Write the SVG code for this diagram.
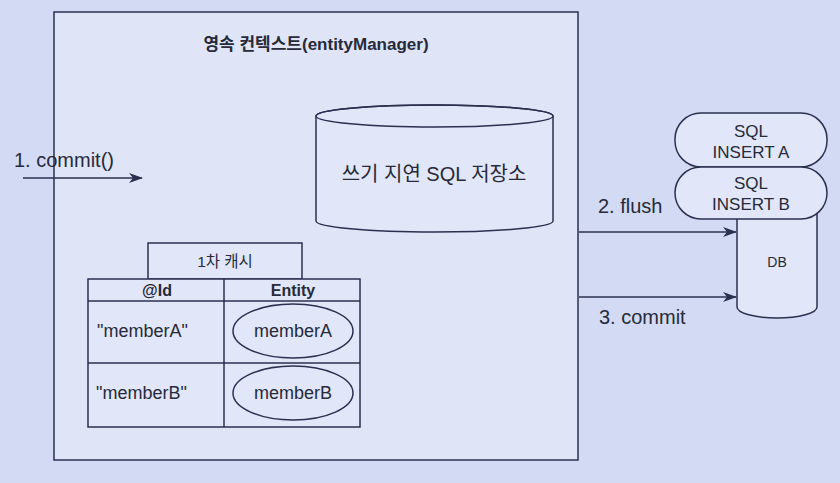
<svg xmlns="http://www.w3.org/2000/svg" width="840" height="483" viewBox="0 0 840 483">
<defs>
<style>
.ln{fill:none;stroke:#2b3050;stroke-width:1.5}
.sh{fill:#e1e6f8;stroke:#2b3050;stroke-width:1.5}
.t{font-family:"Liberation Sans","Noto Sans CJK KR",sans-serif;fill:#262a3a}
.c{text-anchor:middle}
.b{font-weight:bold}
</style>
<marker id="ah" viewBox="0 0 14 10" refX="13" refY="5" markerWidth="14" markerHeight="10" markerUnits="userSpaceOnUse" orient="auto">
<path d="M0,0 L14,5 L0,10 L4,5 Z" fill="#2b3050"/>
</marker>
</defs>
<rect x="0" y="0" width="840" height="483" fill="#d3dbf4"/>
<g id="persistence-context">
<rect x="54" y="12" width="524" height="448" fill="#dfe4f7" stroke="#2b3050" stroke-width="1.5"/>
<text class="t c b" x="316" y="50" font-size="17">영속 컨텍스트(entityManager)</text>
</g>
<g id="write-behind-store">
<path class="sh" d="M316,116 A118.5,11 0 0 1 553,116 L553,221 A118.5,11 0 0 1 316,221 Z"/>
<ellipse class="ln" cx="434.5" cy="116" rx="118.5" ry="11"/>
<text class="t c" x="434" y="181" font-size="20">쓰기 지연 SQL 저장소</text>
</g>
<g id="first-level-cache">
<rect class="sh" x="148" y="243" width="154" height="36"/>
<text class="t c" x="225" y="267" font-size="15.5">1차 캐시</text>
<rect class="sh" x="88" y="279" width="272" height="148"/>
<line class="ln" x1="88" y1="301" x2="360" y2="301"/>
<line class="ln" x1="88" y1="363" x2="360" y2="363"/>
<line class="ln" x1="224" y1="279" x2="224" y2="427"/>
<text class="t c b" x="157" y="296" font-size="16">@Id</text>
<text class="t c b" x="293" y="296" font-size="16">Entity</text>
<text class="t" x="97" y="337" font-size="18">"memberA"</text>
<text class="t" x="96" y="399" font-size="18">"memberB"</text>
</g>
<g id="entity-memberA">
<ellipse class="ln" cx="293" cy="331" rx="60" ry="27"/>
<text class="t c" x="293" y="337" font-size="18">memberA</text>
</g>
<g id="entity-memberB">
<ellipse class="ln" cx="293" cy="393" rx="60" ry="27"/>
<text class="t c" x="293" y="399" font-size="18">memberB</text>
</g>
<g id="db">
<path class="sh" d="M737,200 L817,200 L817,307 A40,11 0 0 1 737,307 Z"/>
<text class="t c" x="777" y="267" font-size="14">DB</text>
</g>
<g id="sql-insert-a">
<rect class="sh" x="675" y="113" width="152" height="54" rx="26" ry="26"/>
<text class="t c" x="751" y="137" font-size="17">SQL</text>
<text class="t c" x="751" y="158" font-size="17">INSERT A</text>
</g>
<g id="sql-insert-b">
<rect class="sh" x="675" y="167" width="152" height="52" rx="26" ry="26"/>
<text class="t c" x="751" y="189" font-size="17">SQL</text>
<text class="t c" x="751" y="210" font-size="17">INSERT B</text>
</g>
<g id="connectors">
<line class="ln" x1="23" y1="178" x2="142" y2="178" marker-end="url(#ah)"/>
<line class="ln" x1="579" y1="232" x2="736" y2="232" marker-end="url(#ah)"/>
<line class="ln" x1="579" y1="297" x2="736" y2="297" marker-end="url(#ah)"/>
<text class="t" x="14" y="167" font-size="20">1. commit()</text>
<text class="t" x="598" y="213" font-size="20">2. flush</text>
<text class="t" x="599" y="324" font-size="20">3. commit</text>
</g>
</svg>
